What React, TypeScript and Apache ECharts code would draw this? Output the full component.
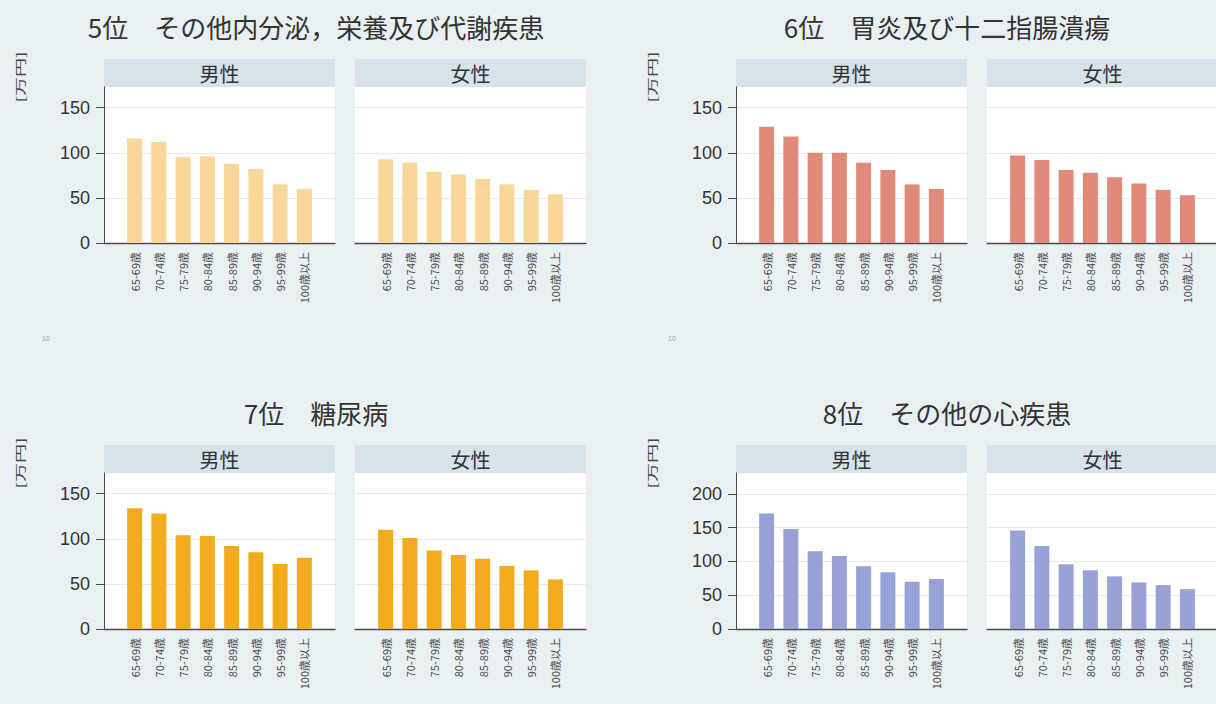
import React, { useEffect, useRef } from 'react';
import * as echarts from 'echarts';

// ---- data ----
const ages = ['65-69歳', '70-74歳', '75-79歳', '80-84歳', '85-89歳', '90-94歳', '95-99歳', '100歳以上'];
const sexes = ['男性', '女性'];
const titles = ['5位　その他内分泌，栄養及び代謝疾患', '6位　胃炎及び十二指腸潰瘍', '7位　糖尿病', '8位　その他の心疾患'];
const endocrineMale = [116, 112, 95, 96, 88, 82, 65, 60];
const endocrineFemale = [93, 89, 79, 76, 71, 65, 59, 54];
const gastritisMale = [129, 118, 100, 100, 89, 81, 65, 60];
const gastritisFemale = [97, 92, 81, 78, 73, 66, 59, 53];
const diabetesMale = [134, 128, 104, 103, 92, 85, 72, 79];
const diabetesFemale = [110, 101, 87, 82, 78, 70, 65, 55];
const heartMale = [171, 148, 115, 108, 93, 84, 70, 74];
const heartFemale = [146, 123, 96, 87, 78, 69, 65, 59];
const ticks150 = [0, 50, 100, 150];
const ticks200 = [0, 50, 100, 150, 200];
const yUnit = '[万円]';

const CJK = "'Noto Sans CJK JP', sans-serif";
const SANS = "'Liberation Sans', Arial, sans-serif";

export default function App() {
  const ref = useRef<HTMLDivElement>(null);
  useEffect(() => {
    document.body.style.margin = '0';
    const chart = echarts.init(ref.current!, null, { renderer: 'svg' });

    const panels = [
      { title: titles[0], data: [endocrineMale, endocrineFemale], color: '#f9d69a', ymax: 173, ticks: ticks150, col: 0, row: 0 },
      { title: titles[1], data: [gastritisMale, gastritisFemale], color: '#e08a79', ymax: 173, ticks: ticks150, col: 1, row: 0 },
      { title: titles[2], data: [diabetesMale, diabetesFemale], color: '#f2aa1f', ymax: 173, ticks: ticks150, col: 0, row: 1 },
      { title: titles[3], data: [heartMale, heartFemale], color: '#98a2d6', ymax: 231, ticks: ticks200, col: 1, row: 1 },
    ];

    const colX = [104, 736];
    const titleX = [316, 947];
    const titleY = [26, 412];
    const plotTop = [87, 473];
    const plotH = 156;
    const stripH = 28;
    const facetW = 231;
    const femaleOff = 251;

    const grid: any[] = [];
    const xAxis: any[] = [];
    const yAxis: any[] = [];
    const series: any[] = [];
    const graphic: any[] = [];

    panels.forEach((p) => {
      graphic.push({
        type: 'text',
        x: titleX[p.col],
        y: titleY[p.row],
        style: {
          text: p.title, fontSize: 26, fill: '#333', fontFamily: CJK,
          textAlign: 'center', textVerticalAlign: 'middle', align: 'center', verticalAlign: 'middle',
        },
      });
      graphic.push({
        type: 'text',
        x: colX[p.col] - 84,
        y: plotTop[p.row] - 10,
        rotation: Math.PI / 2,
        scaleY: 0.6,
        style: {
          text: yUnit, fontSize: 19, fill: '#444', fontFamily: CJK,
          textAlign: 'center', textVerticalAlign: 'middle', align: 'center', verticalAlign: 'middle',
        },
      });
      sexes.forEach((sex, s) => {
        const x0 = colX[p.col] + s * femaleOff;
        const top = plotTop[p.row];
        graphic.push({
          type: 'rect',
          shape: { x: x0, y: top - stripH, width: facetW, height: stripH },
          style: { fill: '#d7e2e9' },
        });
        graphic.push({
          type: 'text',
          x: x0 + facetW / 2,
          y: top - stripH / 2,
          style: {
            text: sex, fontSize: 20, fill: '#333', fontFamily: CJK,
            textAlign: 'center', textVerticalAlign: 'middle', align: 'center', verticalAlign: 'middle',
          },
        });

        // frame grid (white plot area, y axis, x axis line)
        const fi = grid.length;
        grid.push({
          left: x0, top, width: facetW, height: plotH,
          show: true, backgroundColor: '#ffffff', borderWidth: 0,
          containLabel: false, outerBoundsMode: 'none',
        });
        xAxis.push({
          gridIndex: fi, type: 'value', min: 0, max: 1,
          axisLine: { show: true, onZero: false, lineStyle: { color: '#4a4a4a', width: 1.3 } },
          axisTick: { show: false }, axisLabel: { show: false }, splitLine: { show: false },
        });
        yAxis.push({
          gridIndex: fi, type: 'value', min: 0, max: p.ymax,
          axisLine: { show: s === 0, onZero: false, lineStyle: { color: '#4a4a4a', width: 1 } },
          axisTick: { show: s === 0, length: 8, customValues: p.ticks, lineStyle: { color: '#4a4a4a' } },
          axisLabel: { show: s === 0, customValues: p.ticks, fontSize: 18, color: '#333', margin: 14, fontFamily: SANS },
          splitLine: { show: true, lineStyle: { color: '#e6eaed', width: 1 } },
        });

        // bars grid
        const bi = grid.length;
        grid.push({
          left: x0 + 18.5, top, width: 194, height: plotH,
          containLabel: false, outerBoundsMode: 'none',
        });
        xAxis.push({
          gridIndex: bi, type: 'category', data: ages,
          axisLine: { show: false }, axisTick: { show: false }, splitLine: { show: false },
          axisLabel: { rotate: 90, interval: 0, fontSize: 11, color: '#4a4a4a', margin: 9, fontFamily: CJK },
        });
        yAxis.push({ gridIndex: bi, type: 'value', min: 0, max: p.ymax, show: false, splitLine: { show: false } });
        series.push({
          type: 'bar', xAxisIndex: bi, yAxisIndex: bi,
          data: p.data[s], barWidth: 15,
          itemStyle: { color: p.color },
        });
      });
    });

    // small faint marks seen in the picture
    graphic.push({ type: 'text', x: 46, y: 338, style: { text: '10', fontSize: 7, fill: '#9aa', fontFamily: SANS, textAlign: 'center', textVerticalAlign: 'middle', align: 'center', verticalAlign: 'middle' } });
    graphic.push({ type: 'text', x: 672, y: 338, style: { text: '10', fontSize: 7, fill: '#9aa', fontFamily: SANS, textAlign: 'center', textVerticalAlign: 'middle', align: 'center', verticalAlign: 'middle' } });

    chart.setOption({
      animation: false,
      backgroundColor: '#e9f0f2',
      grid, xAxis, yAxis, series, graphic,
    });
    return () => chart.dispose();
  }, []);
  return <div ref={ref} style={{ width: 1216, height: 704 }} />;
}
